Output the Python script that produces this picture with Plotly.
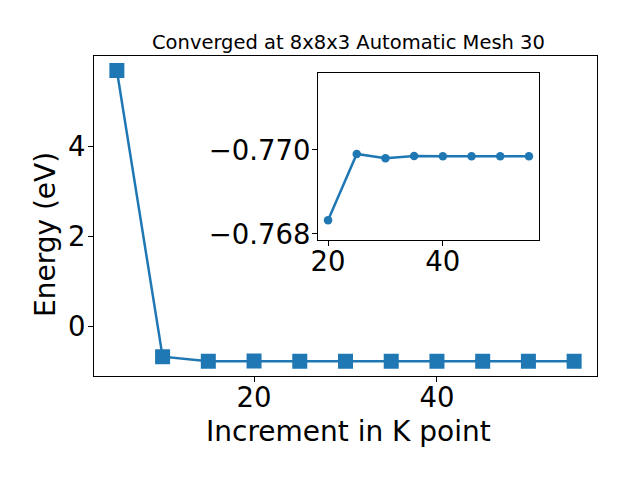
import plotly.graph_objects as go

# Main data
k_points = [5, 10, 15, 20, 25, 30, 35, 40, 45, 50, 55]
energy = [5.676, -0.67, -0.770, -0.768326, -0.769905, -0.769802, -0.769857,
          -0.76985, -0.76985, -0.76985, -0.76985]

# Inset data
inset_k = [20, 25, 30, 35, 40, 45, 50, 55]
inset_energy = [-0.768326, -0.769905, -0.769802, -0.769857,
                -0.76985, -0.76985, -0.76985, -0.76985]

main_xticks = [20, 40]
main_yticks = [0, 2, 4]
inset_xticks = [20, 40]
inset_yticks = [-0.770, -0.768]

title_text = "Converged at 8x8x3 Automatic Mesh 30"
xlabel = "Increment in K point"
ylabel = "Energy (eV)"

C = "#1f77b4"
FONT = "DejaVu Sans"
W, H = 640, 480

fig = go.Figure()
fig.add_trace(go.Scatter(x=k_points, y=energy, mode="lines+markers",
                         line=dict(color=C, width=2.5),
                         marker=dict(symbol="square", size=15, color=C),
                         xaxis="x", yaxis="y", showlegend=False))
fig.add_trace(go.Scatter(x=inset_k, y=inset_energy, mode="lines+markers",
                         line=dict(color=C, width=2.5),
                         marker=dict(symbol="circle", size=8.5, color=C),
                         xaxis="x2", yaxis="y2", showlegend=False))

axis_common = dict(showline=True, linecolor="black", linewidth=1, mirror=True,
                   ticks="outside", ticklen=5, tickcolor="black", tickwidth=1,
                   showgrid=False, zeroline=False, automargin=False,
                   tickfont=dict(family=FONT, size=27.5, color="black"))

fig.update_layout(
    width=W, height=H,
    margin=dict(l=0, r=0, t=0, b=0, autoexpand=False),
    paper_bgcolor="white", plot_bgcolor="white",
    font=dict(family=FONT, color="black"),
    xaxis=dict(domain=[94 / W, 597 / W], range=[2.5, 57.5], ticklabelstandoff=-8,
               tickvals=main_xticks, anchor="y", **axis_common),
    yaxis=dict(domain=[(H - 375.7) / H, (H - 56) / H], range=[-1.092, 5.998],
               ticklabelstandoff=-3,
               tickvals=main_yticks, anchor="x", **axis_common),
    xaxis2=dict(domain=[318 / W, 539 / W], range=[18.25, 56.75], ticklabelstandoff=-8,
                tickvals=inset_xticks, anchor="y2", **axis_common),
    yaxis2=dict(domain=[(H - 240) / H, (H - 72.7) / H], range=[-0.767857, -0.771840],
                ticklabelstandoff=-4,
                tickvals=inset_yticks, tickformat=".3f", anchor="x2", **axis_common),
    annotations=[
        dict(text=title_text, x=348 / W, y=(H - 42) / H, xref="paper", yref="paper",
             showarrow=False, font=dict(family=FONT, size=19.5, color="black"),
             xanchor="center", yanchor="middle"),
        dict(text=xlabel, x=348 / W, y=(H - 431) / H, xref="paper", yref="paper",
             showarrow=False, font=dict(family=FONT, size=28, color="black"),
             xanchor="center", yanchor="middle"),
        dict(text=ylabel, x=45 / W, y=(H - 235) / H, xref="paper", yref="paper",
             showarrow=False, textangle=-90,
             font=dict(family=FONT, size=28, color="black"),
             xanchor="center", yanchor="middle"),
    ],
)

fig.write_html("out.html", config={"displayModeBar": False},
               post_script="document.body.style.margin='0';")
